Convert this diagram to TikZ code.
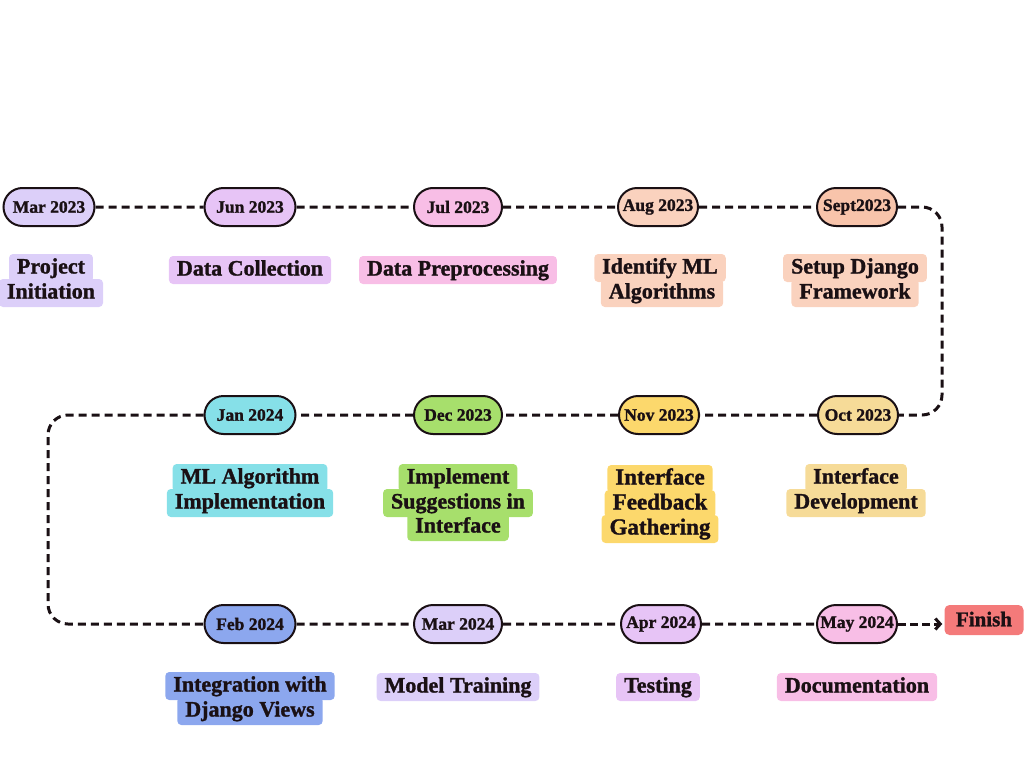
\documentclass[tikz,border=0pt]{standalone}
\usepackage{fontspec}
\setmainfont{Liberation Serif}[BoldFeatures={FakeBold=1.3}]
\usetikzlibrary{shapes.misc,arrows.meta}
\definecolor{cLav}{HTML}{DCCFF9}
\definecolor{cLil}{HTML}{E7C4F6}
\definecolor{cPink}{HTML}{F8BEE6}
\definecolor{cPeach}{HTML}{FAD2BE}
\definecolor{cPeachD}{HTML}{F8C4AB}
\definecolor{cSand}{HTML}{F6DB98}
\definecolor{cGold}{HTML}{FCD86C}
\definecolor{cGreen}{HTML}{A7DF6C}
\definecolor{cCyan}{HTML}{86E0E8}
\definecolor{cBlue}{HTML}{8CA7EE}
\definecolor{cRed}{HTML}{F47A7A}
\definecolor{cInk}{HTML}{1A1014}
\tikzset{
  pill/.style={rounded rectangle, draw=cInk, line width=2pt, minimum height=38pt,
    inner xsep=2pt, inner ysep=0pt, text=cInk,
    font=\bfseries\fontsize{17.5}{19}\selectfont},
  w1/.style={minimum width=95pt},
  w2/.style={minimum width=92pt},
  w3/.style={minimum width=84pt},
  lbl/.style={rounded corners=4pt, inner xsep=8pt, inner ysep=0pt, minimum height=28pt,
    text height=15pt, text depth=4pt, text=cInk,
    font=\bfseries\fontsize{22}{25}\selectfont},
  lblbig/.style={lbl, font=\bfseries\fontsize{23}{26}\selectfont},
  link/.style={draw=cInk, line width=3pt, dash pattern=on 8pt off 5pt, rounded corners=20pt},
}
\begin{document}
\begin{tikzpicture}[x=1pt,y=-1pt]
\useasboundingbox (0,0) rectangle (1024,768);
% ---- row 1 ----
\node[pill,w1,fill=cLav] (d1) at (49,207) {Mar 2023};
\node[pill,w1,fill=cLil] (d2) at (250,207) {Jun 2023};
\node[pill,w2,fill=cPink] (d3) at (458,207) {Jul 2023};
\node[pill,w3,fill=cPeach] (d4) at (658,207) {Aug 2023};
\node[pill,w3,fill=cPeachD] (d5) at (857,207) {Sept2023};
% ---- row 2 ----
\node[pill,w3,fill=cSand] (d6) at (858,415) {Oct 2023};
\node[pill,w3,fill=cGold] (d7) at (659,415) {Nov 2023};
\node[pill,w2,fill=cGreen] (d8) at (458,415) {Dec 2023};
\node[pill,w1,fill=cCyan] (d9) at (250,415) {Jan 2024};
% ---- row 3 ----
\node[pill,w1,fill=cBlue] (d10) at (250,624) {Feb 2024};
\node[pill,w2,fill=cLav] (d11) at (458,624) {Mar 2024};
\node[pill,w3,fill=cLil] (d12) at (661,624) {Apr 2024};
\node[pill,w3,fill=cPink] (d13) at (857,624) {May 2024};
\node[rounded corners=5pt, fill=cRed, minimum width=79pt, minimum height=30pt, inner sep=0pt,
  text=cInk, font=\bfseries\fontsize{21}{24}\selectfont] (fin) at (984,620) {\raisebox{2pt}{Finish}};
% ---- connectors ----
\coordinate (cR) at (942,311);
\coordinate (cL) at (48,520);
\draw[link] (d1) -- (d2);
\draw[link] (d2) -- (d3);
\draw[link] (d3) -- (d4);
\draw[link] (d4) -- (d5);
\draw[link] (d5.east) -| (cR) |- (d6.east);
\draw[link] (d6) -- (d7);
\draw[link] (d7) -- (d8);
\draw[link] (d8) -- (d9);
\draw[link] (d9.west) -| (cL) |- (d10.west);
\draw[link] (d10) -- (d11);
\draw[link] (d11) -- (d12);
\draw[link] (d12) -- (d13);
\draw[link, dash pattern=on 8pt off 4pt, -{Straight Barb[length=5pt,width=11pt]}]
  (d13.east) -- ([xshift=-2pt]d13.east -| fin.west);
% ---- labels row 1 ----
\node[lbl,fill=cLav] (a1) at (51,293) {Initiation};
\node[lbl,fill=cLav] (a1t) at (51,268) {Project};
\node[lbl,fill=cLil] (a2) at (250,270) {Data Collection};
\node[lbl,fill=cPink] (a3) at (458,270) {Data Preprocessing};
\node[lbl,fill=cPeach] (a4) at (662,293) {Algorithms};
\node[lbl,fill=cPeach] (a4t) at (660,268) {Identify ML};
\node[lbl,fill=cPeach] (a5) at (855,293) {Framework};
\node[lbl,fill=cPeach] (a5t) at (855,268) {Setup Django};
% ---- labels row 2 ----
\node[lbl,fill=cCyan] (b9) at (250,503) {Implementation};
\node[lbl,fill=cCyan] (b9t) at (250,478) {ML Algorithm};
\node[lbl,fill=cGreen] (b8) at (458,527) {Interface};
\node[lbl,fill=cGreen] (b8m) at (458,503) {Suggestions in};
\node[lbl,fill=cGreen] (b8t) at (458,478) {Implement};
\node[lblbig,fill=cGold] (b7) at (660,529) {Gathering};
\node[lblbig,fill=cGold] (b7m) at (660,504) {Feedback};
\node[lblbig,fill=cGold] (b7t) at (660,479) {Interface};
\node[lbl,fill=cSand] (b6) at (856,503) {Development};
\node[lbl,fill=cSand] (b6t) at (856,478) {Interface};
% ---- labels row 3 ----
\node[lbl,fill=cBlue] (c10) at (250,711) {Django Views};
\node[lbl,fill=cBlue] (c10t) at (250,686) {Integration with};
\node[lbl,fill=cLav] (c11) at (458,687) {Model Training};
\node[lbl,fill=cLil] (c12) at (658,687) {Testing};
\node[lbl,fill=cPink] (c13) at (857,687) {Documentation};
\end{tikzpicture}
\end{document}
